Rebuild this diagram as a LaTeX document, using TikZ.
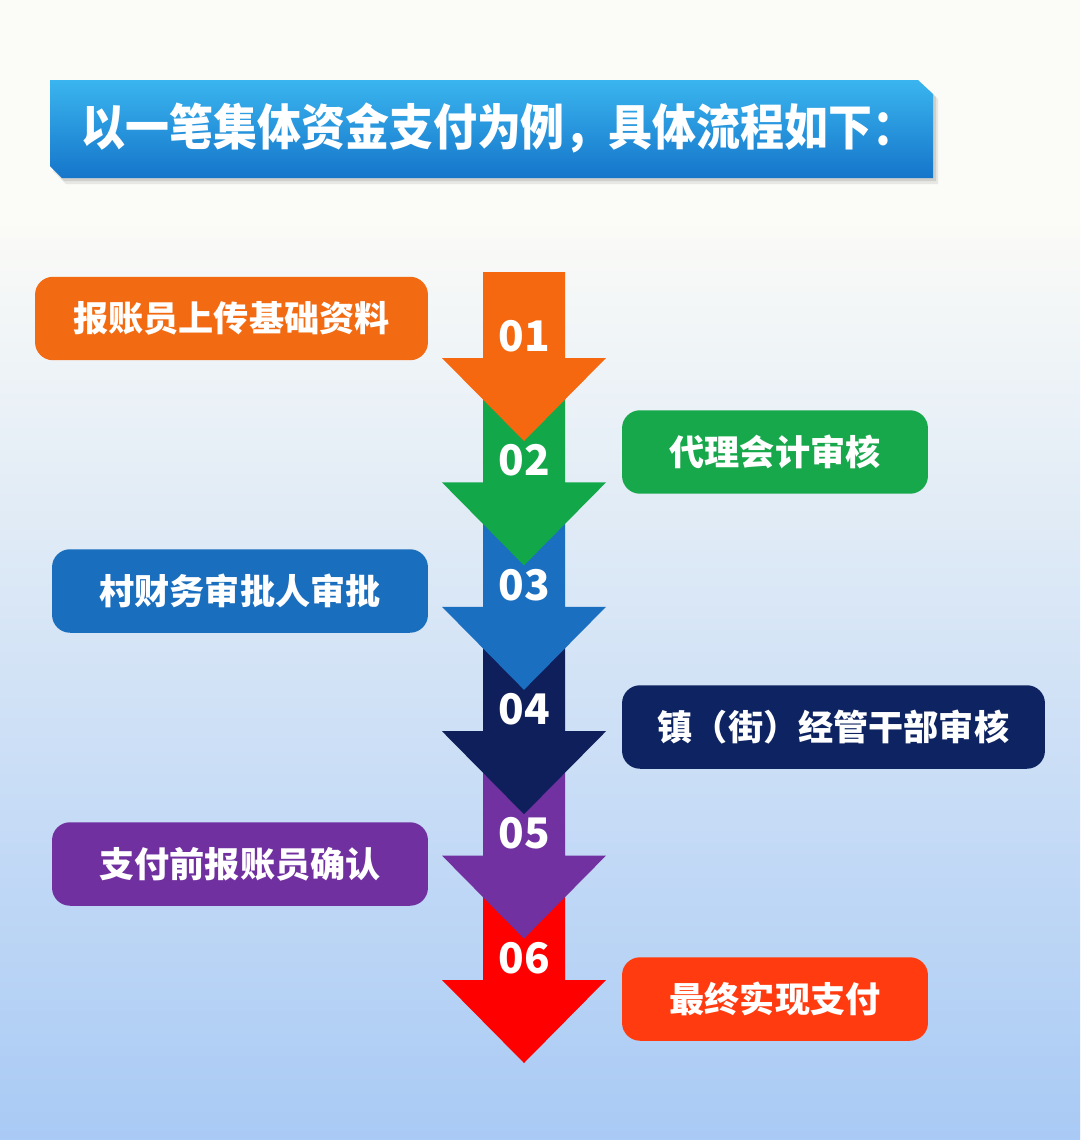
\documentclass[tikz,border=0pt]{standalone}
\usepackage{fontspec}
\newfontfamily\cjk{Noto Sans CJK SC}
\definecolor{bgtop}{HTML}{FBFBF7}
\definecolor{bgmid}{HTML}{D9E6F6}
\definecolor{bgbot}{HTML}{A9CAF5}
\definecolor{bantop}{HTML}{3AB5EF}
\definecolor{banbot}{HTML}{1575CA}
\definecolor{c1}{HTML}{F26A12}
\definecolor{c2}{HTML}{17A84B}
\definecolor{c3}{HTML}{1A6EBE}
\definecolor{c4}{HTML}{0E2462}
\definecolor{c5}{HTML}{7030A0}
\definecolor{c6}{HTML}{FF3B0F}
\definecolor{a1}{HTML}{F5680F}
\definecolor{a2}{HTML}{12A84A}
\definecolor{a3}{HTML}{1B6FC0}
\definecolor{a4}{HTML}{0F1F5C}
\definecolor{a5}{HTML}{7131A0}
\definecolor{a6}{HTML}{FF0000}
\begin{document}
\begin{tikzpicture}[x=0.02cm,y=-0.02cm,
  box/.style={rounded corners=0.36cm, minimum width=#1, minimum height=1.67cm, inner sep=0pt,
    text=white, font=\cjk\bfseries\fontsize{20}{20}\selectfont},
  num/.style={text=white, inner sep=0pt, font=\cjk\bfseries\fontsize{24}{24}\selectfont},
  head/.style={text=white, inner sep=0pt, font=\cjk\bfseries\fontsize{25}{26}\selectfont}]
% background
\useasboundingbox (0,0) rectangle (1080,1140);
\fill[bgtop] (0,0) rectangle (1080,221);
\shade[top color=bgtop, middle color=bgmid, bottom color=bgbot] (0,220) rectangle (1080,1140);
% banner shadow
\fill[black, opacity=0.08] (53,84) -- (922,84) -- (938,99) -- (938,184) -- (66,184) -- (53,171) -- cycle;
\fill[black, opacity=0.10] (52,82) -- (920,82) -- (936,97) -- (936,181) -- (64,181) -- (52,168) -- cycle;
% banner
\shade[top color=bantop, bottom color=banbot] (50,80) -- (918,80) -- (933,94) -- (933,178) -- (62,178) -- (50,166) -- cycle;
\node[head] (h) at (499,128) {\scalebox{1}[1.12]{以一笔集体资金支付为例，具体流程如下：}};
% arrows (drawn bottom first so upper heads lie on top)
\foreach \k/\top/\hd/\col in {6/855.6/980/a6, 5/731.2/855.6/a5, 4/606.8/731.2/a4, 3/482.4/606.8/a3, 2/358/482.4/a2, 1/272/358/a1}{
  \fill[\col] (483,\top) -- (565,\top) -- (565,\hd) -- (606,\hd) -- (524,{\hd+83}) -- (442,\hd) -- (483,\hd) -- cycle;
  \node[num] (n\k) at (524,{\hd-22}) {0\k};
}
% step boxes
\node[box=7.86cm, fill=c1] (b1) at (231.5,318.5) {报账员上传基础资料};
\node[box=6.12cm, fill=c2] (b2) at (775,452) {代理会计审核};
\node[box=7.52cm, fill=c3] (b3) at (240,591) {村财务审批人审批};
\node[box=8.46cm, fill=c4] (b4) at (833.5,727) {镇（街）经管干部审核};
\node[box=7.52cm, fill=c5] (b5) at (240,864) {支付前报账员确认};
\node[box=6.12cm, fill=c6] (b6) at (775,999) {最终实现支付};
\end{tikzpicture}
\end{document}
